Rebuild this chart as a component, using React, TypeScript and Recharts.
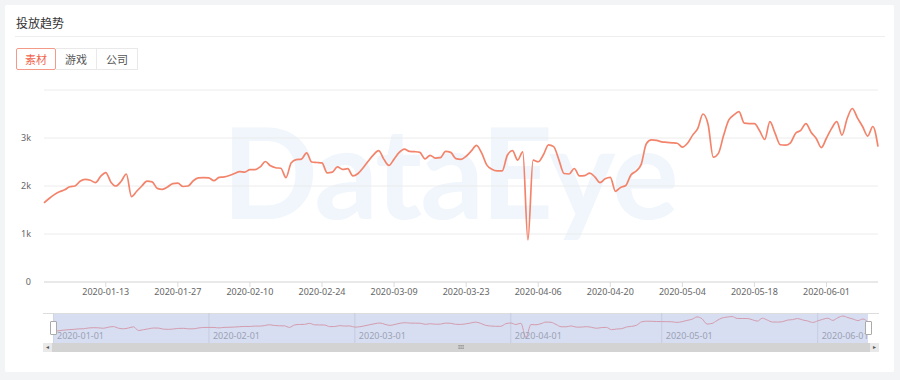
import React from 'react'
import { LineChart, Line, XAxis, YAxis, CartesianGrid, ReferenceLine } from 'recharts'

// daily values, one array per month
const jan = [1650, 1740, 1820, 1880, 1920, 1985, 2000, 2100, 2140, 2120, 2070, 2200, 2280, 2080, 2000, 2100, 2250, 1780, 1890, 2000, 2100, 2085, 1950, 1930, 1980, 2050, 2060, 1990, 2000, 2110, 2170]
const feb = [2175, 2170, 2110, 2180, 2190, 2220, 2260, 2300, 2290, 2340, 2340, 2400, 2510, 2420, 2380, 2370, 2175, 2480, 2550, 2560, 2690, 2500, 2490, 2480, 2275, 2290, 2400, 2345, 2360]
const mar = [2210, 2260, 2380, 2520, 2650, 2735, 2560, 2430, 2560, 2700, 2770, 2720, 2715, 2700, 2565, 2640, 2580, 2590, 2720, 2700, 2570, 2555, 2620, 2730, 2845, 2690, 2440, 2350, 2315, 2315, 2640]
const apr = [2735, 2540, 2710, 875, 2540, 2505, 2650, 2855, 2820, 2550, 2260, 2250, 2365, 2210, 2215, 2270, 2190, 2070, 2150, 2180, 1890, 1970, 2010, 2230, 2310, 2450, 2880, 2960, 2950, 2920]
const may = [2910, 2900, 2890, 2810, 2890, 3060, 3200, 3500, 3280, 2600, 2680, 3050, 3370, 3480, 3550, 3310, 3300, 3300, 3150, 2970, 3340, 3100, 2860, 2850, 2900, 3100, 3160, 3300, 3120, 2990, 2800]
const jun = [3000, 3200, 3340, 3060, 3400, 3615, 3420, 3240, 3040, 3240, 2820]

const months = [jan, feb, mar, apr, may, jun]

const axisTicks = ['2020-01-13', '2020-01-27', '2020-02-10', '2020-02-24', '2020-03-09', '2020-03-23', '2020-04-06', '2020-04-20', '2020-05-04', '2020-05-18', '2020-06-01']
const yTicks = [0, 1000, 2000, 3000, 4000]
const sliderLabels = ['2020-01-01', '2020-02-01', '2020-03-01', '2020-04-01', '2020-05-01', '2020-06-01']
const tabs = ['素材', '游戏', '公司']

const pad = (n: number) => String(n).padStart(2, '0')
const data = months.flatMap((vals, m) =>
  vals.map((value, d) => ({ date: `2020-${pad(m + 1)}-${pad(d + 1)}`, value }))
)

const LINE = '#f3846c'
const FONT = '"Noto Sans", "Noto Sans CJK SC", sans-serif'

const formatY = (v: number) => (v === 0 ? '0' : v >= 4000 ? '' : `${v / 1000}k`)

export default function App() {
  return (
    <div style={{ position: 'absolute', left: 0, top: 0, width: 900, height: 380, background: '#f3f4f6', fontFamily: FONT, overflow: 'hidden' }}>
      <div style={{ position: 'absolute', left: 5, top: 5, width: 889, height: 367, background: '#fff', borderRadius: 2 }} />

      {/* header */}
      <div style={{ position: 'absolute', left: 16, top: 14, fontSize: 12, color: '#333', fontFamily: '"Noto Sans CJK SC", sans-serif' }}>投放趋势</div>
      <div style={{ position: 'absolute', left: 15, top: 36, width: 870, height: 1, background: '#eeeeee' }} />

      <div style={{ position: 'absolute', left: 16, top: 48, display: 'flex', fontFamily: '"Noto Sans CJK SC", sans-serif', fontSize: 11 }}>
        {tabs.map((t, i) => (
          <div
            key={t}
            style={{
              width: i === 0 ? 38 : 40,
              height: 20,
              lineHeight: '20px',
              textAlign: 'center',
              color: i === 0 ? '#f0654d' : '#555',
              border: `1px solid ${i === 0 ? '#f49a88' : '#e9e9e9'}`,
              borderLeft: i === 0 ? '1px solid #f49a88' : 'none',
              borderRadius: i === 0 ? 2 : 0,
            }}
          >
            {t}
          </div>
        ))}
      </div>

      {/* watermark */}
      <div style={{ position: 'absolute', left: 222, top: 108, fontSize: 126, fontWeight: 700, lineHeight: 1, color: '#f0f6fc', fontFamily: 'Lato, sans-serif', letterSpacing: -2 }}>DataEye</div>

      {/* main chart */}
      <div style={{ position: 'absolute', left: 0, top: 80 }}>
        <LineChart width={900} height={222} data={data} margin={{ top: 10, right: 22, left: 0, bottom: 0 }}>
          <CartesianGrid vertical={false} stroke="#ececec" />
          <XAxis
            dataKey="date"
            ticks={axisTicks}
            interval={0}
            height={20}
            tickSize={5}
            tickMargin={2}
            axisLine={{ stroke: '#dcdcdc' }}
            tickLine={{ stroke: '#dcdcdc' }}
            tick={{ fontSize: 9, fill: '#666', fontFamily: FONT }}
          />
          <YAxis
            width={44}
            domain={[0, 4000]}
            ticks={yTicks}
            tickFormatter={formatY}
            axisLine={false}
            tickLine={false}
            tickSize={8}
            tickMargin={5}
            tick={{ fontSize: 9, fill: '#666', fontFamily: FONT }}
          />
          <Line type="monotone" dataKey="value" stroke={LINE} strokeWidth={1.7} dot={false} isAnimationActive={false} />
        </LineChart>
      </div>

      {/* data zoom slider */}
      <div style={{ position: 'absolute', left: 43, top: 313, width: 836, height: 1, background: '#dddddd' }} />
      <div style={{ position: 'absolute', left: 53, top: 314, width: 815, height: 29, background: '#d8def1' }} />
      <div style={{ position: 'absolute', left: 53, top: 313 }}>
        <LineChart width={815} height={30} data={data} margin={{ top: 0, right: 0, left: 0, bottom: 0 }}>
          <XAxis dataKey="date" hide />
          <YAxis hide domain={[200, 4000]} />
          {sliderLabels.map((d) => (
            <ReferenceLine
              key={d}
              x={d}
              stroke="#c6cce0"
              label={{ value: d, position: 'insideBottomLeft', fontSize: 9, fill: '#9aa2b6', fontFamily: FONT, offset: 4 }}
            />
          ))}
          <Line type="monotone" dataKey="value" stroke="#d39cae" strokeWidth={1} dot={false} isAnimationActive={false} />
        </LineChart>
      </div>
      <div style={{ position: 'absolute', left: 50, top: 321, width: 5, height: 12, background: '#fff', border: '1px solid #aaa', borderRadius: 1 }} />
      <div style={{ position: 'absolute', left: 865, top: 321, width: 5, height: 12, background: '#fff', border: '1px solid #aaa', borderRadius: 1 }} />

      <div style={{ position: 'absolute', left: 43, top: 343, width: 836, height: 9, background: '#d3d3d3' }} />
      <div style={{ position: 'absolute', left: 43, top: 343, width: 9, height: 9, background: '#e9e9e9', fontSize: 6, lineHeight: '9px', textAlign: 'center', color: '#555' }}>◂</div>
      <div style={{ position: 'absolute', left: 870, top: 343, width: 9, height: 9, background: '#e9e9e9', fontSize: 6, lineHeight: '9px', textAlign: 'center', color: '#555' }}>▸</div>
      <div style={{ position: 'absolute', left: 455, top: 343, width: 12, height: 9, fontSize: 6, lineHeight: '9px', textAlign: 'center', color: '#777' }}>III</div>
    </div>
  )
}
